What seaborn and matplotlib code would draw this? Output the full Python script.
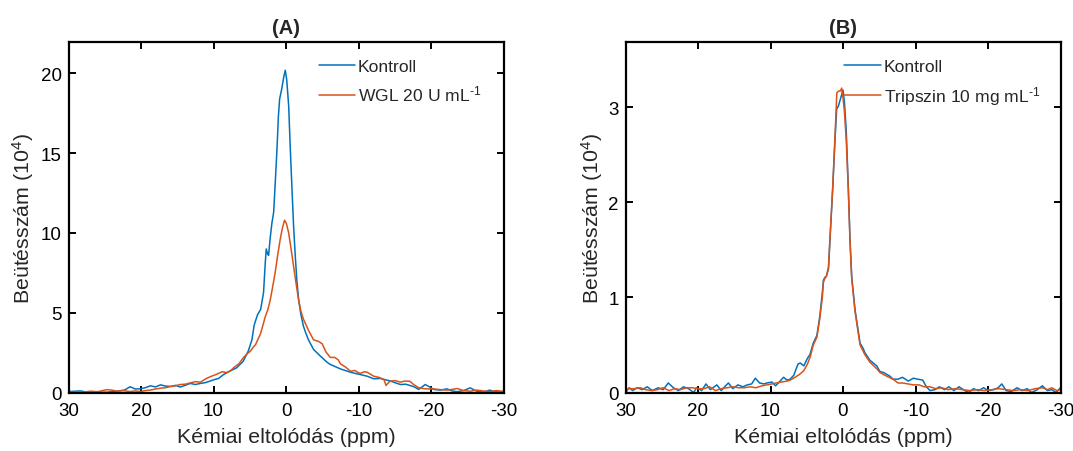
import matplotlib
matplotlib.use("Agg")
import matplotlib.pyplot as plt
import seaborn as sns

# ---------------- data (counts in 10^4) ----------------
a_ctrl_ppm = [30, 29.8, 28.4, 27.5, 26.5, 25.5, 24.7, 23.3, 22.3, 21.5, 20.8, 20.1, 19.4, 18.7, 18.0,
              17.3, 16.6, 15.9, 15.2, 14.6, 13.9, 13.2, 12.5, 11.8, 11.1, 10.4, 9.8, 9.3, 8.6, 7.7,
              6.8, 5.9, 5.2, 4.7, 4.4, 4.2, 3.9, 3.5, 3.1, 2.85, 2.72, 2.55, 2.4, 2.2, 1.95, 1.7,
              1.5, 1.25, 1.05, 0.88, 0.6, 0.3, 0.1, -0.1, -0.37, -0.6, -0.83, -1.05, -1.28, -1.5,
              -1.74, -2.05, -2.4, -2.75, -3.1, -3.8, -4.7, -5.65, -6.1, -7.5, -8.9, -10.2, -11.2,
              -12.1, -13.0, -13.5, -14.4, -15.0, -15.8, -16.5, -17.1, -17.7, -18.3, -19.2, -19.8,
              -20.4, -21.3, -22.2, -22.9, -23.6, -24.5, -25.4, -26.3, -27.2, -28.1, -28.8, -29.5, -30]
a_ctrl_val = [0.05, 0.06, 0.10, 0.03, 0.05, 0.02, 0.02, 0.08, 0.15, 0.36, 0.22, 0.23, 0.30, 0.42, 0.35,
              0.48, 0.40, 0.38, 0.45, 0.34, 0.45, 0.57, 0.50, 0.57, 0.62, 0.73, 0.82, 0.88, 1.13, 1.35,
              1.55, 1.96, 2.6, 3.3, 4.2, 4.5, 4.9, 5.2, 6.25, 8.2, 9.0, 8.7, 8.6, 9.6, 10.6, 11.3,
              13.0, 15.2, 17.3, 18.4, 19.0, 19.8, 20.2, 19.6, 17.95, 15.2, 12.7, 10.4, 8.55, 7.0,
              5.83, 4.9, 4.16, 3.7, 3.3, 2.7, 2.3, 1.9, 1.76, 1.48, 1.27, 1.13, 1.02,
              0.86, 0.88, 0.82, 0.72, 0.62, 0.50, 0.52, 0.44, 0.35, 0.19, 0.50, 0.35,
              0.19, 0.15, 0.23, 0.10, 0.05, 0.12, 0.29, 0.08, 0.02, 0.15, 0.05, 0.03, 0.08]

a_wgl_ppm = [30, 29, 28.4, 27.5, 27, 26, 25.3, 24.7, 24.0, 23.3, 22.5, 21.5, 20.8, 20.1, 19.4, 18.7,
             18.0, 17.3, 16.6, 15.9, 15.2, 14.6, 13.9, 13.2, 12.5, 11.8, 11.1, 10.4, 9.8, 9.3, 8.8,
             8.2, 7.7, 7.1, 6.5, 5.85, 5.3, 4.9, 4.5, 4.2, 3.85, 3.5, 2.86, 2.5, 2.17, 1.85, 1.5,
             1.15, 0.8, 0.5, 0.2, -0.05, -0.37, -0.7, -1.05, -1.4, -1.74, -2.05, -2.4, -3.1, -3.8,
             -4.5, -5.0, -5.5, -6.1, -6.7, -7.2, -7.5, -8.2, -8.9, -9.5, -10.2, -10.8, -11.2, -12.1,
             -12.8, -13.5, -13.8, -14.2, -14.4, -15.0, -15.8, -16.4, -17.1, -17.6, -18.3, -19.2,
             -20.4, -21.3, -22.2, -23.0, -23.6, -24.5, -25.4, -26.3, -27.2, -28.1, -29.0, -29.5, -30]
a_wgl_val = [0.0, 0.02, 0.0, 0.05, 0.08, 0.05, 0.12, 0.18, 0.15, 0.08, 0.12, 0.06, 0.10, 0.06, 0.12, 0.15,
             0.22, 0.27, 0.30, 0.38, 0.42, 0.50, 0.52, 0.60, 0.68, 0.65, 0.85, 1.0, 1.1, 1.2, 1.3,
             1.25, 1.35, 1.6, 1.8, 2.2, 2.45, 2.6, 2.85, 3.0, 3.35, 3.7, 4.75, 5.2, 5.8, 6.6, 7.5,
             8.6, 9.6, 10.3, 10.8, 10.6, 10.0, 9.0, 7.9, 6.8, 5.8, 5.1, 4.6, 3.9, 3.3,
             3.2, 3.05, 2.55, 2.2, 2.2, 2.05, 1.8, 1.6, 1.33, 1.38, 1.19, 1.3, 1.27, 1.02,
             0.95, 0.82, 0.44, 0.65, 0.71, 0.75, 0.65, 0.72, 0.70, 0.50, 0.30, 0.23,
             0.22, 0.18, 0.15, 0.20, 0.25, 0.12, 0.08, 0.15, 0.10, 0.05, 0.12, 0.10, 0.05]

b_ctrl_ppm = [30, 29.5, 29, 28.4, 27.7, 27, 26.3, 25.5, 24.8, 24.1, 23.4, 22.7, 22, 21.3, 20.6, 20.2,
              19.5, 18.9, 18.3, 17.4, 16.8, 16.2, 15.8, 15.2, 14.5, 13.8, 13.2, 12.6, 12.1, 11.5,
              10.9, 10.5, 9.8, 9.3, 8.8, 8.2, 7.7, 7.3, 6.8, 6.2, 5.9, 5.4, 4.9, 4.55, 4.1, 3.6,
              3.2, 2.85, 2.7, 2.5, 2.3, 2.0, 1.8, 1.42, 1.1, 0.87, 0.64, 0.3, 0.0, -0.2, -0.45,
              -0.74, -0.97, -1.2, -1.66, -2.35, -2.8, -3.0, -3.7, -4.65, -5.1, -5.6, -6.5, -6.9,
              -7.6, -8.2, -9.0, -9.7, -10.3, -11.0, -11.5, -12.0, -12.7, -13.3, -14.0, -14.6, -15.3,
              -16.0, -16.6, -17.3, -18.0, -18.7, -19.4, -20.0, -20.8, -21.4, -21.9, -22.5, -23.2,
              -24.0, -24.7, -25.4, -26.0, -26.8, -27.5, -28.2, -28.8, -29.4, -30]
b_ctrl_val = [0.0, 0.05, 0.02, 0.05, 0.03, 0.06, 0.02, 0.05, 0.03, 0.10, 0.05, 0.02, 0.06, 0.04, 0.0, 0.05,
              0.02, 0.09, 0.03, 0.08, 0.02, 0.07, 0.10, 0.04, 0.08, 0.06, 0.08, 0.09, 0.15, 0.10,
              0.09, 0.10, 0.11, 0.07, 0.11, 0.16, 0.13, 0.14, 0.18, 0.30, 0.31, 0.28, 0.36, 0.40, 0.52, 0.60,
              0.80, 1.05, 1.18, 1.21, 1.22, 1.30, 1.6, 2.14, 2.66, 2.98, 3.01, 3.10, 3.18, 3.05, 2.75,
              2.14, 1.6, 1.22, 0.87, 0.52, 0.46, 0.42, 0.34, 0.28, 0.22, 0.21, 0.17, 0.14,
              0.14, 0.16, 0.12, 0.15, 0.14, 0.13, 0.06, 0.02, 0.03, 0.06, 0.03, 0.06, 0.02,
              0.06, 0.03, 0.0, 0.04, 0.02, 0.05, 0.02, 0.03, 0.05, 0.09, 0.02, 0.01,
              0.05, 0.02, 0.04, 0.0, 0.03, 0.07, 0.02, 0.03, 0.0, 0.05]

b_tryp_ppm = [30, 29.6, 28.8, 28.0, 27.2, 26.4, 25.6, 24.8, 24.0, 23.2, 22.4, 21.6, 20.8, 20.0, 19.2,
              18.4, 17.6, 16.8, 16.0, 15.2, 14.4, 13.6, 12.8, 12.0, 11.2, 10.5, 9.8, 9.2, 8.5, 7.7,
              7.3, 6.6, 6.0, 5.4, 4.9, 4.5, 4.1, 3.6, 3.2, 2.85, 2.7, 2.5, 2.3, 2.0, 1.8, 1.42, 1.1,
              0.85, 0.6, 0.35, 0.18, 0.0, -0.2, -0.45, -0.74, -0.97, -1.2, -1.66, -2.35, -3.0, -3.7,
              -4.65, -5.1, -5.8, -6.9, -7.6, -8.2, -9.0, -9.7, -10.5, -11.2, -12.0, -12.8, -13.6,
              -14.5, -15.5, -16.5, -17.5, -18.5, -19.5, -20.5, -21.5, -22.5, -23.5, -24.5, -25.5,
              -26.5, -27.5, -28.2, -28.8, -29.5, -30]
b_tryp_val = [0.0, 0.04, 0.04, 0.05, 0.03, 0.02, 0.03, 0.05, 0.02, 0.04, 0.03, 0.05, 0.05, 0.04, 0.04,
              0.06, 0.02, 0.04, 0.05, 0.06, 0.05, 0.05, 0.06, 0.05, 0.07, 0.08, 0.09, 0.10, 0.11, 0.12,
              0.13, 0.16, 0.19, 0.23, 0.30, 0.38, 0.50, 0.58, 0.78, 1.0, 1.16, 1.20, 1.22, 1.32, 1.62, 2.16, 2.7,
              3.15, 3.17, 3.17, 3.20, 3.10, 2.95, 2.65, 2.12, 1.58, 1.2, 0.85, 0.50, 0.40, 0.32,
              0.25, 0.21, 0.18, 0.14, 0.10, 0.10, 0.09, 0.08, 0.08, 0.06, 0.06, 0.04, 0.05,
              0.03, 0.04, 0.03, 0.02, 0.03, 0.02, 0.03, 0.04, 0.03, 0.02, 0.03, 0.02,
              0.04, 0.05, 0.03, 0.05, 0.02, 0.03]

x_ticks = [30, 20, 10, 0, -10, -20, -30]
a_yticks = [0, 5, 10, 15, 20]
b_yticks = [0, 1, 2, 3]

# ---------------- style ----------------
sns.set_theme(style="ticks")
plt.rcParams["font.family"] = ["Liberation Sans", "DejaVu Sans"]
plt.rcParams["mathtext.fontset"] = "custom"
plt.rcParams["mathtext.rm"] = "Liberation Sans"
plt.rcParams["mathtext.it"] = "Liberation Sans"
plt.rcParams["mathtext.default"] = "regular"
plt.rcParams["axes.unicode_minus"] = False

BLUE = "#0072BD"
ORANGE = "#D95319"

fig = plt.figure(figsize=(10.73, 4.52), dpi=100)
axA = fig.add_axes([68.5 / 1073, 1 - 393.5 / 452, 435 / 1073, 351 / 452])
axB = fig.add_axes([625.5 / 1073, 1 - 393.5 / 452, 435 / 1073, 351 / 452])

panels = [
    (axA, a_ctrl_ppm, a_ctrl_val, a_wgl_ppm, a_wgl_val, r"WGL 20 U mL$^{\text{-1}}$", "(A)", 22, a_yticks, 0.575, -0.075),
    (axB, b_ctrl_ppm, b_ctrl_val, b_tryp_ppm, b_tryp_val, r"Tripszin 10 mg mL$^{\text{-1}}$", "(B)", 3.69, b_yticks, 0.503, -0.046),
]

for ax, cx, cy, tx, ty, tlabel, title, ymax, yt, legx, ylx in panels:
    sns.lineplot(x=cx, y=cy, ax=ax, color=BLUE, linewidth=1.1, label="Kontroll", estimator=None)
    sns.lineplot(x=tx, y=ty, ax=ax, color=ORANGE, linewidth=1.1, label=tlabel, estimator=None)
    ax.set_xlim(30, -30)
    ax.set_ylim(0, ymax)
    ax.set_xticks(x_ticks)
    ax.set_xticklabels([str(v) for v in x_ticks])
    ax.set_yticks(yt)
    ax.tick_params(direction="in", top=True, right=True, length=5, width=1.4,
                   labelsize=13.5, colors="black")
    ax.tick_params(axis="x", pad=6.5)
    ax.tick_params(axis="y", pad=5)
    for sp in ax.spines.values():
        sp.set_visible(True)
        sp.set_linewidth(1.6)
        sp.set_color("black")
    ax.set_xlabel("Kémiai eltolódás (ppm)", fontsize=15.4)
    ax.set_ylabel("Beütésszám (10$^{4}$)", fontsize=15.4)
    ax.yaxis.set_label_coords(ylx, 0.5)
    ax.xaxis.set_label_coords(0.5, -0.098)
    ax.set_title(title, fontsize=14.5, fontweight="bold", pad=6)
    ax.legend(loc="upper left", bbox_to_anchor=(legx, 0.95), frameon=False,
              fontsize=12.6, handlelength=2.1, handletextpad=0.15,
              labelspacing=0.55, borderpad=0, borderaxespad=0)

fig.savefig("out.png", dpi=100)
